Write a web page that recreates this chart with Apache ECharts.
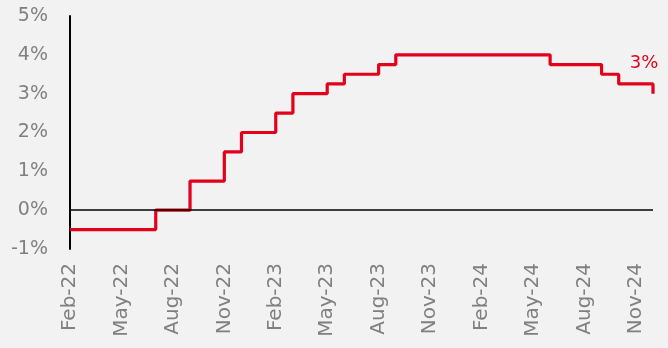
<!DOCTYPE html>
<html>
<head>
<meta charset="utf-8">
<script src="https://cdn.jsdelivr.net/npm/echarts@6/dist/echarts.min.js"></script>
<style>
  html, body { margin: 0; padding: 0; background: #f2f2f2; }
  #chart { width: 668px; height: 348px; }
</style>
</head>
<body>
<div id="chart"></div>
<script>
// monthly months, Feb-22 .. Dec-24
const months = [
  'Feb-22', 'Mar-22', 'Apr-22', 'May-22', 'Jun-22', 'Jul-22', 'Aug-22', 'Sep-22', 'Oct-22', 'Nov-22', 'Dec-22',
  'Jan-23', 'Feb-23', 'Mar-23', 'Apr-23', 'May-23', 'Jun-23', 'Jul-23', 'Aug-23', 'Sep-23', 'Oct-23', 'Nov-23', 'Dec-23',
  'Jan-24', 'Feb-24', 'Mar-24', 'Apr-24', 'May-24', 'Jun-24', 'Jul-24', 'Aug-24', 'Sep-24', 'Oct-24', 'Nov-24', 'Dec-24'
];
// policy rate, % (end of month)
const rate = [
  -0.5, -0.5, -0.5, -0.5, -0.5, 0, 0, 0.75, 0.75, 1.5, 2,
  2, 2.5, 3, 3, 3.25, 3.5, 3.5, 3.75, 4, 4, 4, 4,
  4, 4, 4, 4, 4, 3.75, 3.75, 3.75, 3.5, 3.25, 3.25, 3
];
const yTicks = [-1, 0, 1, 2, 3, 4, 5];

const red = '#e2001a';
const grey = '#808080';
const font = 'DejaVu Sans';

const chart = echarts.init(document.getElementById('chart'));

chart.setOption({
  backgroundColor: '#f2f2f2',
  animation: false,
  grid: { left: 70, right: 15, top: 16, bottom: 99 },
  xAxis: {
    type: 'category',
    data: months,
    boundaryGap: false,
    axisLine: { show: false },
    axisTick: { show: false },
    splitLine: { show: false },
    axisLabel: {
      interval: 2,
      rotate: 90,
      margin: 14,
      color: grey,
      fontSize: 20,
      fontFamily: font
    }
  },
  yAxis: {
    type: 'value',
    min: yTicks[0],
    max: yTicks[yTicks.length - 1],
    interval: 1,
    axisLine: { show: true, lineStyle: { color: '#000', width: 2 } },
    axisTick: { show: false },
    splitLine: { show: false },
    axisLabel: {
      formatter: '{value}%',
      margin: 22,
      color: grey,
      fontSize: 19,
      fontFamily: font
    }
  },
  series: [{
    type: 'line',
    step: 'end',
    data: rate,
    showSymbol: false,
    symbol: 'none',
    lineStyle: { color: red, width: 3.2 },
    endLabel: {
      show: true,
      formatter: p => p.value + '%',
      align: 'center',
      verticalAlign: 'middle',
      distance: 0,
      offset: [-9, -30],
      color: red,
      fontSize: 18,
      fontFamily: font
    },
    markLine: {
      silent: true,
      symbol: 'none',
      label: { show: false },
      lineStyle: { color: '#000', width: 1.5, type: 'solid' },
      data: [{ yAxis: 0 }]
    },
    z: 3
  }]
});
</script>
</body>
</html>
